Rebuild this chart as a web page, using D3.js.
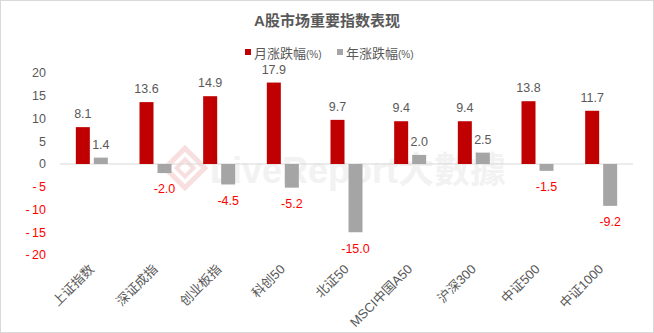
<!DOCTYPE html>
<html><head><meta charset="utf-8">
<script src="https://cdn.jsdelivr.net/npm/d3@7"></script>
<style>body{margin:0;background:#fff;}svg{display:block;font-family:"Liberation Sans","Noto Sans CJK SC",sans-serif;}</style>
</head><body><svg id="c" width="654" height="333"></svg>
<script>
const categories = ["上证指数","深证成指","创业板指","科创50","北证50","MSCI中国A50","沪深300","中证500","中证1000"];
const monthly = [8.1, 13.6, 14.9, 17.9, 9.7, 9.4, 9.4, 13.8, 11.7];
const yearly = [1.4, -2.0, -4.5, -5.2, -15.0, 2.0, 2.5, -1.5, -9.2];
const seriesNames = ["月涨跌幅", "年涨跌幅"];
const yTicks = [20, 15, 10, 5, 0, -5, -10, -15, -20];
const colors = ["#C00000", "#A5A5A5"];

const svg = d3.select("#c");
svg.append("rect").attr("x",0.5).attr("y",0.5).attr("width",653).attr("height",332).attr("fill","#fff").attr("stroke","#D9D9D9");

// watermark
const wm = svg.append("g").attr("opacity",0.9);
wm.append("rect").attr("x",-14).attr("y",-14).attr("width",28).attr("height",28)
  .attr("transform","translate(185,168) rotate(45)").attr("fill","none").attr("stroke","#F8DCDC").attr("stroke-width",5);
wm.append("rect").attr("x",-6).attr("y",-6).attr("width",12).attr("height",12)
  .attr("transform","translate(185,168) rotate(45)").attr("fill","none").attr("stroke","#F8DCDC").attr("stroke-width",4);
wm.append("text").attr("x",210).attr("y",183).attr("font-size",36).attr("font-weight","bold")
  .attr("fill","#F1F1F1").text("LiveReport大數據");

svg.append("text").attr("x",327).attr("y",26).attr("text-anchor","middle").attr("font-size",15)
  .attr("font-weight","bold").attr("fill","#595959").text("A股市场重要指数表现");

const x = d3.scaleBand().domain(categories).range([60, 633]);
const y = d3.scaleLinear().domain([-20, 20]).range([255, 73]);
const barW = 14, gap = 4;

// legend
const legendX = [245, 337];
seriesNames.forEach((n,i)=>{
  const g = svg.append("g").attr("transform",`translate(${legendX[i]},53)`);
  g.append("rect").attr("x",0).attr("y",-4).attr("width",6).attr("height",6).attr("fill",colors[i]);
  const t = g.append("text").attr("x",9).attr("y",0).attr("dy","0.35em").attr("font-size",13).attr("fill","#595959");
  t.append("tspan").text(n);
  t.append("tspan").attr("font-size",10).text("(%)");
});

// y axis labels
svg.append("g").selectAll("text").data(yTicks).join("text")
  .attr("x",46).attr("y",d=>y(d)).attr("dy","0.35em").attr("text-anchor","end")
  .attr("font-size",12.5).attr("fill",d=>d<0?"#FF0000":"#595959").text(d=>d<0?"-\u2009"+Math.abs(d):d);

// zero line
svg.append("line").attr("x1",60).attr("x2",633).attr("y1",y(0)).attr("y2",y(0)).attr("stroke","#D9D9D9");

const series = [monthly, yearly];
series.forEach((vals,si)=>{
  const g = svg.append("g");
  const bx = (c)=> x(c) + x.bandwidth()/2 + (si===0 ? -gap/2-barW : gap/2);
  g.selectAll("rect").data(vals).join("rect")
    .attr("x",(d,i)=>bx(categories[i]))
    .attr("y",d=>y(Math.max(0,d)))
    .attr("width",barW)
    .attr("height",d=>Math.abs(y(d)-y(0)))
    .attr("fill",colors[si]);
  g.selectAll("text").data(vals).join("text")
    .attr("x",(d,i)=>bx(categories[i])+barW/2)
    .attr("y",d=> d>=0 ? y(d)-9 : y(d)+16)
    .attr("dy", d=> d>=0 ? "0" : "0.35em")
    .attr("text-anchor","middle").attr("font-size",12.5)
    .attr("fill",d=>d<0?"#FF0000":"#595959")
    .text(d=>d.toFixed(1));
});

// x labels
svg.append("g").selectAll("text").data(categories).join("text")
  .attr("transform",c=>`translate(${x(c)+x.bandwidth()/2+3},270) rotate(-45)`)
  .attr("text-anchor","end").attr("font-size",13).attr("fill","#595959").text(c=>c);
</script></body></html>
